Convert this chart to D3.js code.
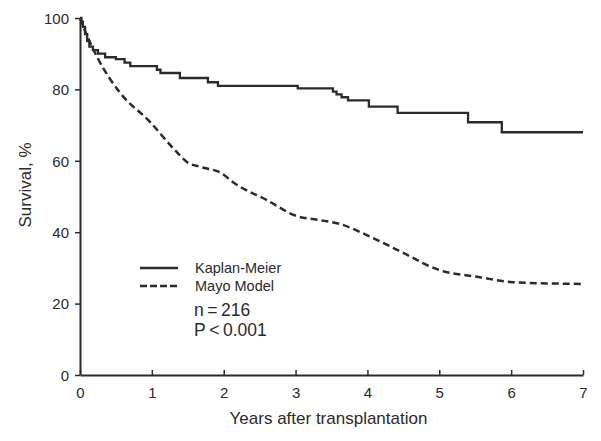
<!DOCTYPE html>
<html>
<head>
<meta charset="utf-8">
<script src="https://cdn.jsdelivr.net/npm/d3@7/dist/d3.min.js"></script>
<style>
  html, body { margin: 0; padding: 0; background: #fff; }
  svg { display: block; font-family: "Liberation Sans", Arial, Helvetica, sans-serif; }
</style>
</head>
<body>
<svg id="chart" width="601" height="441"></svg>
<script>
// ---- data ----
const xTicks = [0, 1, 2, 3, 4, 5, 6, 7];
const yTicks = [0, 20, 40, 60, 80, 100];
const kmYears = [0, 0.02, 0.04, 0.07, 0.10, 0.13, 0.18, 0.25, 0.35, 0.50, 0.62, 0.70, 1.07, 1.12, 1.39, 1.78, 1.92, 3.03, 3.52, 3.57, 3.64, 3.73, 4.02, 4.42, 5.40, 5.87, 7.0];
const kmSurvival = [100, 99, 97.5, 95.5, 93.5, 92, 91, 90, 89, 88.5, 87.5, 86.5, 85.5, 84.6, 83.2, 82, 81, 80.3, 79.4, 78.6, 77.8, 76.9, 75.2, 73.4, 70.8, 68.0, 68.0];
const mayoYears = [0, 0.1, 0.24, 0.56, 0.97, 1.32, 1.5, 1.67, 1.97, 2.13, 2.6, 3.02, 3.3, 3.62, 3.99, 4.45, 5.0, 5.56, 6.02, 7.0];
const mayoSurvival = [100, 95, 89, 79, 71, 63, 59.5, 58.3, 56.5, 54, 49, 44.5, 43.5, 42.3, 39.2, 34.7, 29.4, 27.4, 26, 25.5];
const legendLabels = ["Kaplan-Meier", "Mayo Model"];
const statLabels = ["n\u2009=\u2009216", "P\u2009<\u20090.001"];
const xTitle = "Years after transplantation";
const yTitle = "Survival, %";

// ---- layout ----
const svg = d3.select("#chart");
const ink = "#2b2b2b";
const x = d3.scaleLinear().domain([0, 7]).range([80, 583]);
const y = d3.scaleLinear().domain([0, 100]).range([375, 18]);

// axes
const xAxis = svg.append("g").attr("transform", `translate(0,${y(0)})`)
  .call(d3.axisBottom(x).tickValues(xTicks).tickFormat(d3.format("d"))
    .tickSizeInner(-5).tickSizeOuter(0).tickPadding(12));
const yAxis = svg.append("g").attr("transform", `translate(${x(0)},0)`)
  .call(d3.axisLeft(y).tickValues(yTicks).tickFormat(d3.format("d"))
    .tickSizeInner(5).tickSizeOuter(0).tickPadding(6));
[xAxis, yAxis].forEach(g => {
  g.select(".domain").attr("stroke", ink).attr("stroke-width", 2);
  g.selectAll(".tick line").attr("stroke", ink).attr("stroke-width", 1.5);
  g.selectAll(".tick text").attr("fill", ink).style("font-size", "15px")
    .style("font-family", "'Liberation Sans', Arial, sans-serif");
});
yAxis.selectAll(".tick text").attr("dy", "0.35em");

// axis titles
svg.append("text").attr("x", (x(0) + x(7)) / 2 - 3).attr("y", 424)
  .attr("text-anchor", "middle").attr("fill", ink).style("font-size", "17px").text(xTitle);
svg.append("text").attr("transform", `translate(31,${185}) rotate(-90)`)
  .attr("text-anchor", "middle").attr("fill", ink).style("font-size", "17px").text(yTitle);

// curves
const km = kmYears.map((t, i) => [t, kmSurvival[i]]);
const mayo = mayoYears.map((t, i) => [t, mayoSurvival[i]]);
svg.append("path").datum(km)
  .attr("d", d3.line().x(d => x(d[0])).y(d => y(d[1])).curve(d3.curveStepAfter))
  .attr("fill", "none").attr("stroke", ink).attr("stroke-width", 2.3);
svg.append("path").datum(mayo)
  .attr("d", d3.line().x(d => x(d[0])).y(d => y(d[1])).curve(d3.curveMonotoneX))
  .attr("fill", "none").attr("stroke", ink).attr("stroke-width", 2.5).attr("stroke-dasharray", "7,4");

// legend
const leg = svg.append("g");
const dashes = [null, "7,3"];
legendLabels.forEach((lab, i) => {
  const yy = 268 + i * 18;
  leg.append("line").attr("x1", 140).attr("x2", 178).attr("y1", yy).attr("y2", yy)
    .attr("stroke", ink).attr("stroke-width", 2.5).attr("stroke-dasharray", dashes[i]);
  leg.append("text").attr("x", 195).attr("y", yy + 5).attr("fill", ink)
    .style("font-size", "14.5px").text(lab);
});
statLabels.forEach((lab, i) => {
  leg.append("text").attr("x", 194).attr("y", 316 + i * 20).attr("fill", ink)
    .style("font-size", "17.5px").text(lab);
});
</script>
</body>
</html>
